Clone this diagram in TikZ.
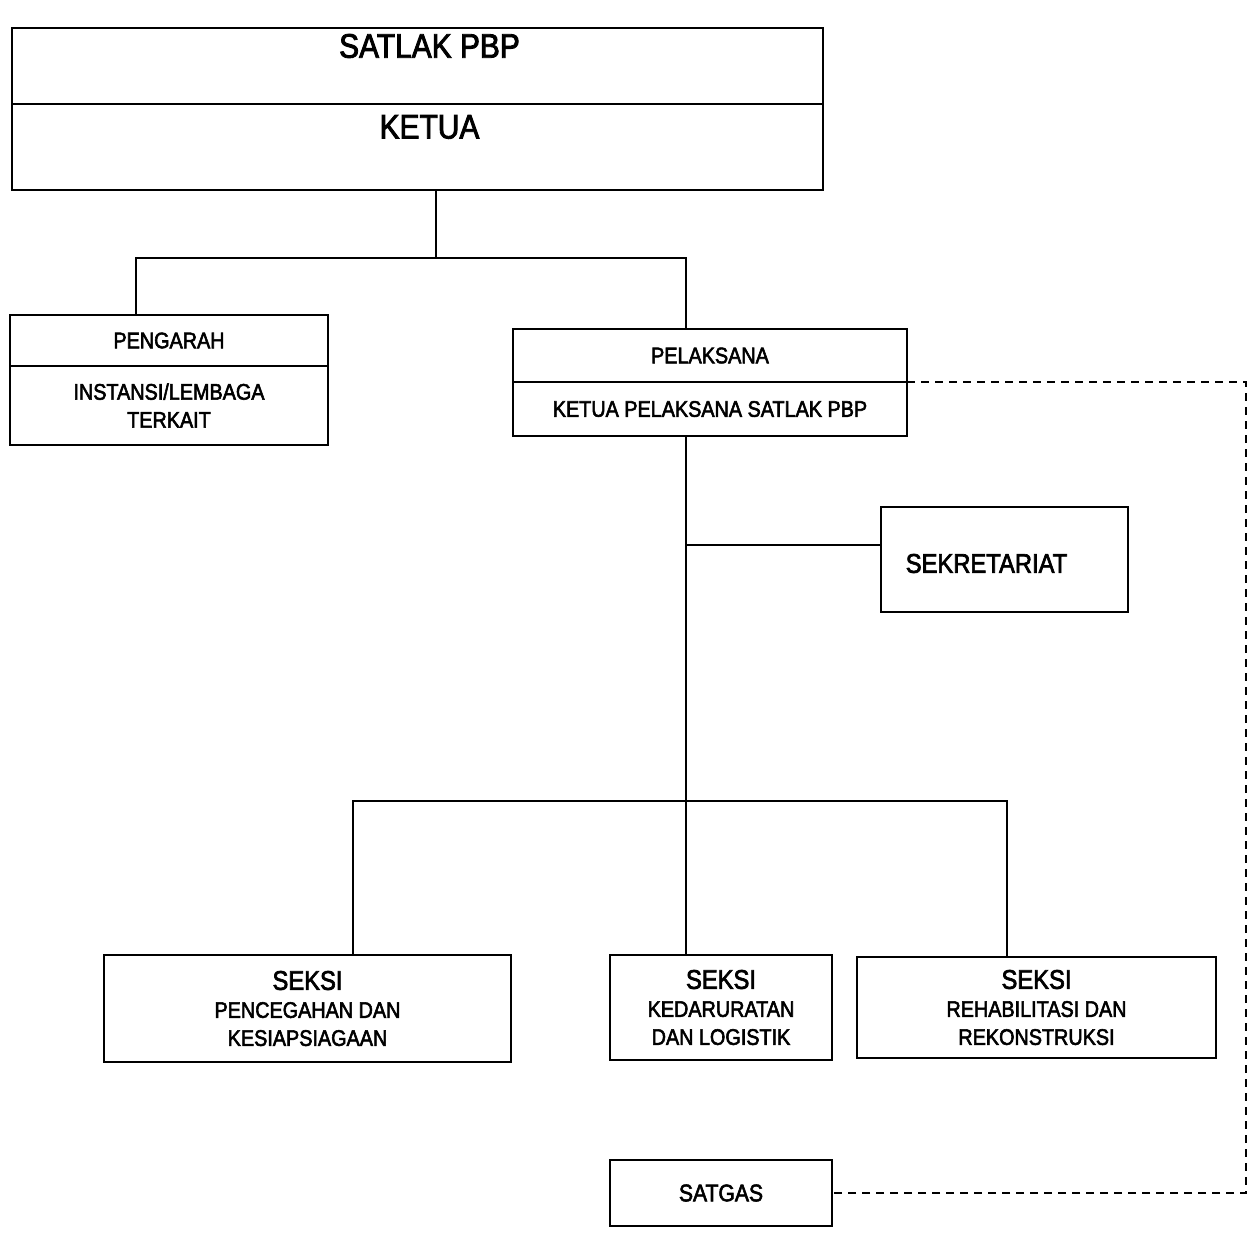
\documentclass[tikz,border=0pt]{standalone}
\usepackage{fontspec}
\setmainfont{Liberation Sans}[FakeStretch=0.88, FakeBold=2.5]
\usetikzlibrary{positioning, calc}

\begin{document}
\begin{tikzpicture}[x=1pt, y=-1pt, line width=2pt,
	box/.style={draw, inner sep=0pt, outer sep=0pt, align=center},
	big/.style={font=\fontsize{34}{40}\selectfont},
	mid/.style={font=\fontsize{22.5}{28}\selectfont},
	head/.style={font=\fontsize{27}{30}\selectfont},
	dashline/.style={line width=1.6pt, dash pattern=on 8pt off 6pt}]
	\useasboundingbox (0,0) rectangle (1250,1242);
	% top box
	\node[box, minimum width=811, minimum height=76] (satlak) at (417.5,66) {};
	\node[box, minimum width=811, minimum height=86, below=0pt of satlak] (ketua) {};
	\path (satlak.center) ++(12,-20) node (satlakT) [big] {SATLAK PBP};
	\path (ketua.center) ++(12,-20) node (ketuaT) [big] {KETUA};
	% second row
	\node[box, mid, minimum width=318, minimum height=51] (pengarah) at (169,340.5) {PENGARAH};
	\node[box, mid, minimum width=318, minimum height=79, below=0pt of pengarah] (instansi) {INSTANSI/LEMBAGA\\TERKAIT};
	\node[box, mid, minimum width=394, minimum height=53] (pelaksana) at (710,355.5) {PELAKSANA};
	\node[box, mid, minimum width=394, minimum height=54, below=0pt of pelaksana] (ketuapl) {KETUA PELAKSANA SATLAK PBP};
	\node[box, minimum width=247, minimum height=105] (sekretariat) at (1004.5,559.5) {};
	\path (sekretariat.center) ++(-18,4) node (sekretariatT) [head] {SEKRETARIAT};
	% seksi
	\node[box, mid, minimum width=407, minimum height=107] (pencegahan) at (307.5,1008.5) {{\fontsize{27}{30}\selectfont SEKSI}\\PENCEGAHAN DAN\\KESIAPSIAGAAN};
	\node[box, mid, minimum width=222, minimum height=105] (kedaruratan) at (721,1007.5) {{\fontsize{27}{30}\selectfont SEKSI}\\KEDARURATAN\\DAN LOGISTIK};
	\node[box, mid, minimum width=359, minimum height=101] (rehab) at (1036.5,1007.5) {{\fontsize{27}{30}\selectfont SEKSI}\\REHABILITASI DAN\\REKONSTRUKSI};
	\node[box, font=\fontsize{24}{28}\selectfont, minimum width=222, minimum height=66] (satgas) at (721,1193) {SATGAS};
	% joints
	\coordinate (jTop) at (436,258);
	\coordinate (jL) at (136,258);
	\coordinate (jR) at (686,258);
	\coordinate (jS) at (686,545);
	\coordinate (bl) at (353,801);
	\coordinate (br) at (1007,801);
	\coordinate (rim) at (1246,0);
	% connectors
	\draw (ketua.south -| jTop) -- (jTop);
	\draw (jL |- pengarah.north) -- (jL) -- (jR) -- (jR |- pelaksana.north);
	\draw (jR |- ketuapl.south) -- (jR |- kedaruratan.north);
	\draw (jS) -- (jS -| sekretariat.west);
	\draw (bl |- pencegahan.north) -- (bl) -- (br) -- (br |- rehab.north);
	\draw[dashline] (pelaksana.south east) -| (satgas.east -| rim) -- (satgas.east);
\end{tikzpicture}
\end{document}
